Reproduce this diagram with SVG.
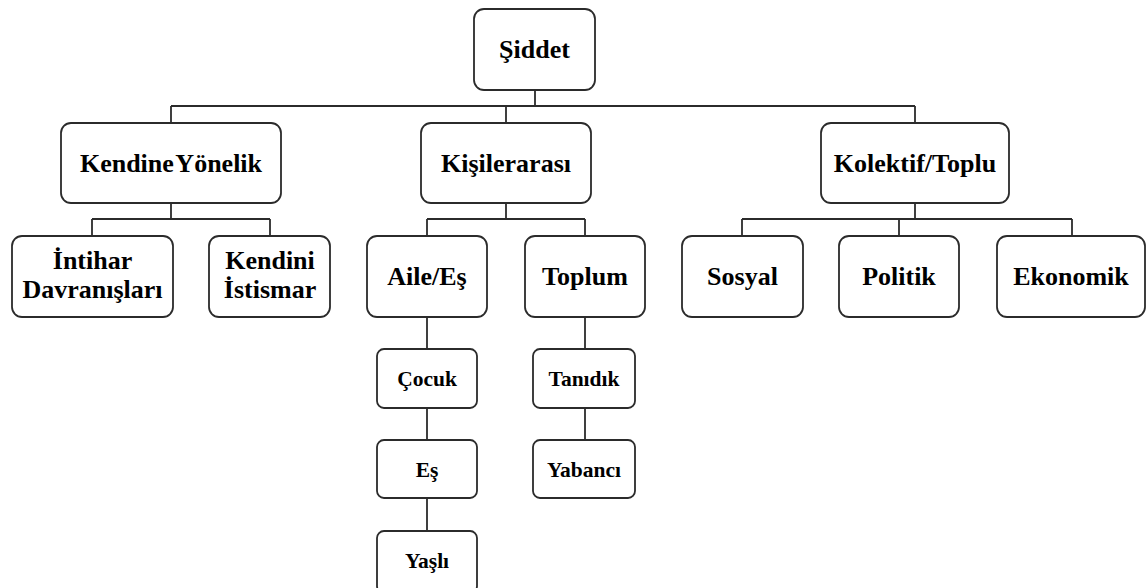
<svg xmlns="http://www.w3.org/2000/svg" width="1147" height="588" viewBox="0 0 1147 588">
<style>
.box{fill:#fff;stroke:#2b2b2b;stroke-width:1.8}
.lbl{font-family:'Liberation Serif','Times New Roman','DejaVu Serif',serif;font-weight:700;font-size:26px;fill:#000;text-anchor:middle}
.sm{font-size:21.5px}
.conn line{stroke:#2b2b2b;stroke-width:1.8}
</style>
<rect width="1147" height="588" fill="#fff"/>
<g class="conn" id="connectors">
<line x1="535" y1="90" x2="535" y2="106"/>
<line x1="171" y1="106" x2="915" y2="106"/>
<line x1="171" y1="106" x2="171" y2="123"/>
<line x1="506" y1="106" x2="506" y2="123"/>
<line x1="915" y1="106" x2="915" y2="123"/>
<line x1="171" y1="203" x2="171" y2="219"/>
<line x1="92" y1="219" x2="270" y2="219"/>
<line x1="92" y1="219" x2="92" y2="236"/>
<line x1="270" y1="219" x2="270" y2="236"/>
<line x1="506" y1="203" x2="506" y2="219"/>
<line x1="427" y1="219" x2="585" y2="219"/>
<line x1="427" y1="219" x2="427" y2="236"/>
<line x1="585" y1="219" x2="585" y2="236"/>
<line x1="915" y1="203" x2="915" y2="219"/>
<line x1="742" y1="219" x2="1072" y2="219"/>
<line x1="742" y1="219" x2="742" y2="236"/>
<line x1="899" y1="219" x2="899" y2="236"/>
<line x1="1072" y1="219" x2="1072" y2="236"/>
<line x1="427" y1="317" x2="427" y2="349"/>
<line x1="427" y1="408" x2="427" y2="440"/>
<line x1="427" y1="498" x2="427" y2="531"/>
<line x1="585" y1="317" x2="585" y2="349"/>
<line x1="585" y1="408" x2="585" y2="440"/>
</g>
<g id="siddet"><rect class="box" x="474" y="9" width="121" height="81" rx="10"/><text class="lbl" x="534.5" y="58">Şiddet</text></g>
<g id="kendine"><rect class="box" x="61" y="123" width="220" height="80" rx="10"/><text class="lbl" x="171" y="172" word-spacing="-4">Kendine Yönelik</text></g>
<g id="kisilerarasi"><rect class="box" x="421" y="123" width="170" height="80" rx="10"/><text class="lbl" x="506" y="172">Kişilerarası</text></g>
<g id="kolektif"><rect class="box" x="821" y="123" width="188" height="80" rx="10"/><text class="lbl" x="915" y="172">Kolektif/Toplu</text></g>
<g id="intihar"><rect class="box" x="12" y="236" width="161" height="81" rx="10"/><text class="lbl" x="92.5" y="269">İntihar</text><text class="lbl" x="92.5" y="298">Davranışları</text></g>
<g id="kendini"><rect class="box" x="209" y="236" width="121" height="81" rx="10"/><text class="lbl" x="270" y="269">Kendini</text><text class="lbl" x="270" y="298">İstismar</text></g>
<g id="aile"><rect class="box" x="367" y="236" width="120" height="81" rx="10"/><text class="lbl" x="427" y="285">Aile/Eş</text></g>
<g id="toplum"><rect class="box" x="525" y="236" width="120" height="81" rx="10"/><text class="lbl" x="585" y="285">Toplum</text></g>
<g id="sosyal"><rect class="box" x="682" y="236" width="121" height="81" rx="10"/><text class="lbl" x="742.5" y="285">Sosyal</text></g>
<g id="politik"><rect class="box" x="839" y="236" width="120" height="81" rx="10"/><text class="lbl" x="899" y="285">Politik</text></g>
<g id="ekonomik"><rect class="box" x="997" y="236" width="148" height="81" rx="10"/><text class="lbl" x="1071" y="285">Ekonomik</text></g>
<g id="cocuk"><rect class="box" x="377" y="349" width="100" height="59" rx="7"/><text class="lbl sm" x="427" y="386">Çocuk</text></g>
<g id="es"><rect class="box" x="377" y="440" width="100" height="58" rx="7"/><text class="lbl sm" x="427" y="477">Eş</text></g>
<g id="yasli"><rect class="box" x="377" y="531" width="100" height="62" rx="7"/><text class="lbl sm" x="427" y="568">Yaşlı</text></g>
<g id="tanidik"><rect class="box" x="533" y="349" width="102" height="59" rx="7"/><text class="lbl sm" x="584" y="386">Tanıdık</text></g>
<g id="yabanci"><rect class="box" x="533" y="440" width="102" height="58" rx="7"/><text class="lbl sm" x="584" y="477">Yabancı</text></g>
</svg>
